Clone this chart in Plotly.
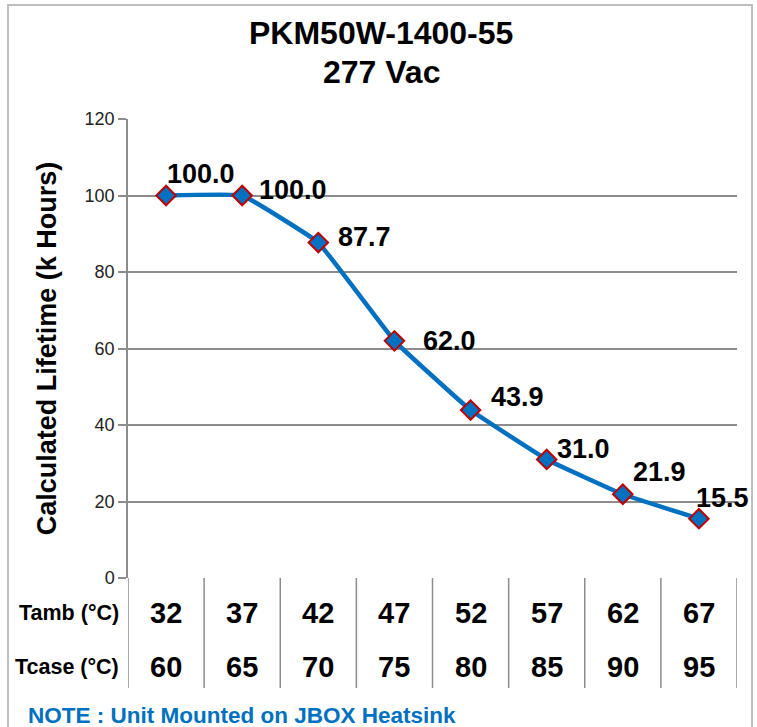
import plotly.graph_objects as go

# ---- data ----
tamb = ["32", "37", "42", "47", "52", "57", "62", "67"]
tcase = ["60", "65", "70", "75", "80", "85", "90", "95"]
lifetime = [100.0, 100.0, 87.7, 62.0, 43.9, 31.0, 21.9, 15.5]
value_labels = ["100.0", "100.0", "87.7", "62.0", "43.9", "31.0", "21.9", "15.5"]
row_labels = ["Tamb (°C)", "Tcase (°C)"]
title_lines = ["PKM50W-1400-55", "277 Vac"]
y_title = "Calculated Lifetime (k Hours)"
note = "NOTE : Unit Mounted on JBOX Heatsink"

# label offsets (px) relative to each point: style only
label_dx = [35, 51, 46, 55, 47, 37, 37, 24]
label_dy = [22, 6, 6, 0, 13, 10, 22, 21]

idx = list(range(len(tamb)))

BLUE = "#0070C0"
RED = "#C00000"
GRID = "#8c8c8c"
SANS = "Liberation Sans, Arial, Helvetica, sans-serif"

# pixel geometry of plot area (page coordinates)
X0, X1, YT, YB = 128, 737, 119, 578


def py(p):
    """page y pixel -> paper fraction"""
    return (YB - p) / (YB - YT)


def px(p):
    return (p - X0) / (X1 - X0)


fig = go.Figure()
fig.add_trace(go.Scatter(
    x=idx, y=lifetime, mode="lines+markers",
    line=dict(color=BLUE, width=4.5, shape="spline", smoothing=0.25),
    marker=dict(symbol="diamond", size=15, color=BLUE, line=dict(color=RED, width=2)),
    hoverinfo="skip", showlegend=False,
))

ann = []
for i, (v, t) in enumerate(zip(lifetime, value_labels)):
    ann.append(dict(x=i, y=v, xref="x", yref="y", text="<b>%s</b>" % t, showarrow=False,
                    xshift=label_dx[i], yshift=label_dy[i],
                    font=dict(family=SANS, size=27, color="black")))

# title lines
for line, yc in zip(title_lines, [33, 72]):
    ann.append(dict(x=px(381), y=py(yc), xref="paper", yref="paper", text="<b>%s</b>" % line,
                    showarrow=False, xanchor="center", yanchor="middle",
                    font=dict(family=SANS, size=32, color="black")))

# table text
row_y = [613, 667]
for r, vals in enumerate([tamb, tcase]):
    for i, v in enumerate(vals):
        ann.append(dict(x=i, y=py(row_y[r]), xref="x", yref="paper",
                        text="<b>%s</b>" % v, showarrow=False, yanchor="middle",
                        font=dict(family=SANS, size=29, color="black")))
    ann.append(dict(x=px(121), y=py(row_y[r]), xref="paper", yref="paper",
                    text="<b>%s</b>" % row_labels[r], showarrow=False, xanchor="right",
                    yanchor="middle",
                    font=dict(family=SANS, size=21.5, color="black")))

ann.append(dict(x=px(26), y=py(715), xref="paper", yref="paper",
                text="<b>%s</b>" % note, showarrow=False, xanchor="left",
                yanchor="middle", font=dict(family=SANS, size=22.5, color=BLUE)))

shapes = []
# table vertical lines at category boundaries
for b in [i - 0.5 for i in range(len(tamb) + 1)]:
    shapes.append(dict(type="line", xref="x", yref="paper", x0=b, x1=b,
                       y0=0, y1=py(688), line=dict(color=GRID, width=1.5)))
# outer border
shapes.append(dict(type="rect", xref="paper", yref="paper",
                   x0=px(8), x1=px(752), y0=py(740), y1=py(5),
                   line=dict(color="#bfbfbf", width=2)))

fig.update_layout(
    width=757, height=727,
    margin=dict(l=X0, r=757 - X1, t=YT, b=727 - YB),
    paper_bgcolor="white", plot_bgcolor="white",
    xaxis=dict(range=[-0.5, 7.5], showticklabels=False, showgrid=False, zeroline=False,
               showline=False, ticks="", fixedrange=True),
    yaxis=dict(range=[0, 120], dtick=20, showgrid=True, gridcolor=GRID, gridwidth=1.5,
               zeroline=False, showline=True, linecolor=GRID, linewidth=1.5,
               ticks="outside", ticklen=8, tickcolor=GRID, tickwidth=1.5,
               tickfont=dict(family=SANS, size=18, color="#222"),
               title=dict(text="<b>%s</b>" % y_title, standoff=20,
                          font=dict(family=SANS, size=27, color="black"))),
    annotations=ann, shapes=shapes,
)

fig.write_html("out.html", config={"displayModeBar": False},
               post_script="document.body.style.margin='0';")
